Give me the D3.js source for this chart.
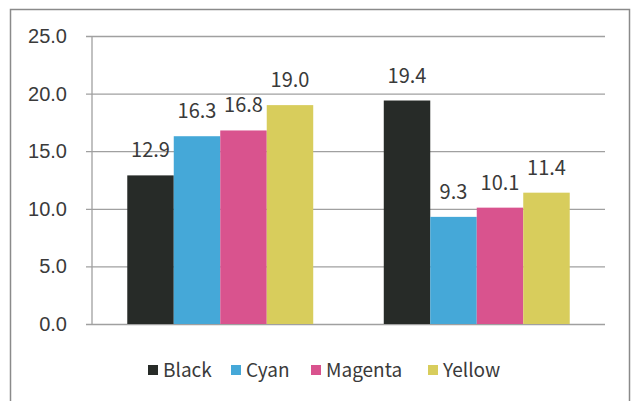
<!DOCTYPE html>
<html>
<head>
<meta charset="utf-8">
<script src="https://cdn.jsdelivr.net/npm/d3@7"></script>
<style>
  html, body { margin: 0; padding: 0; background: #fff; }
  svg { display: block; font-family: "Noto Sans CJK KR", "Noto Sans", sans-serif; }
</style>
</head>
<body>
<div id="chart"></div>
<script>
const groups = ["A", "B"]
const series = ["Black", "Cyan", "Magenta", "Yellow"]
const colors = ["#272b28", "#45a8d8", "#d9538e", "#d8cd5c"]
const blackValues = [12.9, 19.4]
const cyanValues = [16.3, 9.3]
const magentaValues = [16.8, 10.1]
const yellowValues = [19.0, 11.4]
const yTicks = [0, 5, 10, 15, 20, 25]

const width = 632, height = 401
const margin = {top: 36, right: 27, bottom: 77, left: 92}

const rows = groups.map((g, i) => ({
  group: g,
  values: [blackValues[i], cyanValues[i], magentaValues[i], yellowValues[i]]
}))

const svg = d3.select("#chart").append("svg")
  .attr("width", width)
  .attr("height", height)

// outer frame
svg.append("rect")
  .attr("x", 10.5).attr("y", 9.5)
  .attr("width", 619).attr("height", 420)
  .attr("fill", "none")
  .attr("stroke", "#8a8a8a")
  .attr("stroke-width", 1.5)

const x0 = d3.scaleBand()
  .domain(groups)
  .range([margin.left, width - margin.right])
  .paddingInner(0.275)
  .paddingOuter(0.1375)

const x1 = d3.scaleBand()
  .domain(series)
  .range([0, x0.bandwidth()])

const y = d3.scaleLinear()
  .domain([0, 25])
  .range([height - margin.bottom, margin.top])

// grid + ticks
const yAxis = svg.append("g")
  .attr("transform", `translate(${margin.left},0)`)
  .call(d3.axisLeft(y)
    .tickValues(yTicks)
    .tickSize(-(width - margin.left - margin.right))
    .tickFormat(d3.format(".1f")))
yAxis.select(".domain").remove()
yAxis.selectAll(".tick line")
  .attr("x1", -6)
  .attr("stroke", "#a0a0a0")
  .attr("stroke-width", 1.3)
yAxis.selectAll(".tick text")
  .attr("x", -25)
  .attr("fill", "#3a3a3a")
  .style("font-size", "20px")

svg.append("line")
  .attr("x1", margin.left).attr("x2", margin.left)
  .attr("y1", y(25)).attr("y2", y(0))
  .attr("stroke", "#a0a0a0")
  .attr("stroke-width", 1.3)

const g = svg.append("g")
  .selectAll("g")
  .data(rows)
  .join("g")
    .attr("transform", d => `translate(${x0(d.group)},0)`)

g.selectAll("rect")
  .data(d => d.values.map((v, i) => ({key: series[i], value: v, color: colors[i]})))
  .join("rect")
    .attr("x", d => x1(d.key))
    .attr("y", d => y(d.value))
    .attr("width", x1.bandwidth())
    .attr("height", d => y(0) - y(d.value))
    .attr("fill", d => d.color)

g.selectAll("text")
  .data(d => d.values.map((v, i) => ({key: series[i], value: v})))
  .join("text")
    .attr("x", d => x1(d.key) + x1.bandwidth() / 2)
    .attr("y", d => y(d.value) - 18)
    .attr("text-anchor", "middle")
    .attr("fill", "#3a3a3a")
    .style("font-size", "20px")
    .text(d => d.value.toFixed(1))

// legend
const legendX = [148, 231, 311, 428]
const legend = svg.append("g")
  .selectAll("g")
  .data(series)
  .join("g")
    .attr("transform", (d, i) => `translate(${legendX[i]},370)`)
legend.append("rect")
  .attr("x", 0).attr("y", -5)
  .attr("width", 10).attr("height", 10)
  .attr("fill", (d, i) => colors[i])
legend.append("text")
  .attr("x", 15)
  .attr("y", 7)
  .attr("fill", "#3a3a3a")
  .style("font-size", "19px")
  .text(d => d)
</script>
</body>
</html>
